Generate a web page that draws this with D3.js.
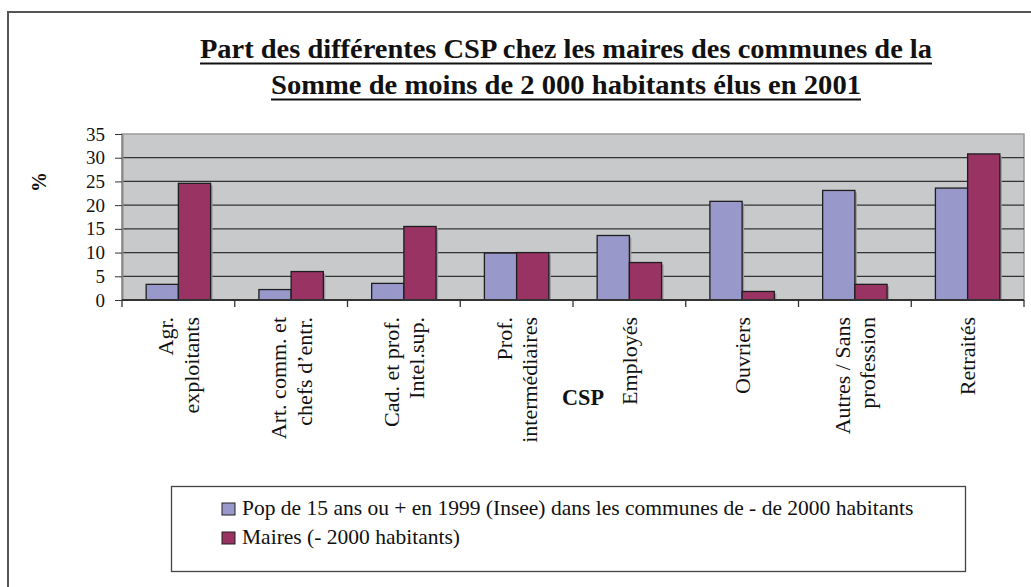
<!DOCTYPE html>
<html>
<head>
<meta charset="utf-8">
<script src="https://cdn.jsdelivr.net/npm/d3@7"></script>
<style>
  body { margin: 0; background: #fff; }
  svg text { font-family: "Liberation Serif", serif; }
</style>
</head>
<body>
<svg id="chart"></svg>
<script>
// data
const categories = [
  "Agr.\nexploitants",
  "Art. comm. et\nchefs d\u2019entr.",
  "Cad. et prof.\nIntel.sup.",
  "Prof.\ninterm\u00e9diaires",
  "Employ\u00e9s",
  "Ouvriers",
  "Autres / Sans\nprofession",
  "Retrait\u00e9s"
];
const seriesNames = [
  "Pop de 15 ans ou + en 1999 (Insee) dans les communes de - de 2000 habitants",
  "Maires (- 2000 habitants)"
];
const popValues = [3.3, 2.2, 3.5, 9.9, 13.6, 20.8, 23.1, 23.6];
const maireValues = [24.6, 6.0, 15.5, 10.0, 7.9, 1.8, 3.3, 30.8];
const yTicks = [0, 5, 10, 15, 20, 25, 30, 35];
const titleLines = [
  "Part des diff\u00e9rentes CSP chez les maires des communes de la",
  "Somme de moins de 2 000 habitants  \u00e9lus en 2001"
];
const colors = ["#9898CB", "#993363"];

const serif = "Liberation Serif";
const size = { width: 1031, height: 587 };
const plot = { left: 122, right: 1024, top: 134, bottom: 300 };

const svg = d3.select("#chart")
  .attr("width", size.width)
  .attr("height", size.height);

// outer frame (only left / top edges are inside the picture)
svg.append("rect")
  .attr("x", 8).attr("y", 12)
  .attr("width", size.width + 20).attr("height", size.height + 20)
  .attr("fill", "none")
  .attr("stroke", "#555")
  .attr("stroke-width", 2);

// title, bold and narrow, underlined
const titleWidths = [732, 590];
titleLines.forEach((t, i) => {
  const y = 58 + i * 36;
  svg.append("text")
    .attr("x", 566).attr("y", y)
    .attr("text-anchor", "middle")
    .style("font-family", serif)
    .attr("font-size", 27)
    .attr("font-weight", "bold")
    .attr("fill", "#111")
    .attr("textLength", titleWidths[i])
    .attr("lengthAdjust", "spacingAndGlyphs")
    .text(t);
  svg.append("line")
    .attr("x1", 566 - titleWidths[i] / 2).attr("x2", 566 + titleWidths[i] / 2)
    .attr("y1", y + 5.5).attr("y2", y + 5.5)
    .attr("stroke", "#111")
    .attr("stroke-width", 2);
});

const data = categories.map((c, i) => ({ cat: c, values: [popValues[i], maireValues[i]] }));

const x = d3.scaleBand()
  .domain(d3.range(categories.length))
  .range([plot.left, plot.right]);
const xSeries = d3.scaleBand()
  .domain([0, 1])
  .range([0, x.bandwidth()])
  .paddingOuter(0.75);
const y = d3.scaleLinear()
  .domain([0, 35])
  .range([plot.bottom, plot.top]);

// plot area
svg.append("rect")
  .attr("x", plot.left).attr("y", plot.top)
  .attr("width", plot.right - plot.left).attr("height", plot.bottom - plot.top)
  .attr("fill", "#C8C9CB")
  .attr("stroke", "#9a9a9a")
  .attr("stroke-width", 1.5);

svg.append("g")
  .selectAll("line")
  .data(yTicks.filter(d => d > 0 && d < 35))
  .join("line")
  .attr("x1", plot.left).attr("x2", plot.right)
  .attr("y1", d => y(d)).attr("y2", d => y(d))
  .attr("stroke", "#333")
  .attr("stroke-width", 1.3);

// bars (with a light drop shadow like the original)
const groups = svg.append("g")
  .selectAll("g")
  .data(data)
  .join("g")
  .attr("transform", (d, i) => `translate(${x(i)},0)`);

groups.selectAll("rect.shadow")
  .data(d => d.values)
  .join("rect")
  .attr("class", "shadow")
  .attr("x", (d, j) => xSeries(j) + 2)
  .attr("y", d => y(d) + 2)
  .attr("width", xSeries.bandwidth())
  .attr("height", d => y(0) - y(d) - 2)
  .attr("fill", "#9a9a9a");

groups.selectAll("rect.bar")
  .data(d => d.values)
  .join("rect")
  .attr("class", "bar")
  .attr("x", (d, j) => xSeries(j))
  .attr("y", d => y(d))
  .attr("width", xSeries.bandwidth())
  .attr("height", d => y(0) - y(d))
  .attr("fill", (d, j) => colors[j])
  .attr("stroke", "#1e1e1e")
  .attr("stroke-width", 1.3);

// y axis
const yAxis = svg.append("g")
  .attr("transform", `translate(${plot.left},0)`)
  .call(d3.axisLeft(y).tickValues(yTicks).tickSize(7).tickPadding(10).tickSizeOuter(0));
yAxis.select(".domain").attr("stroke", "#888").attr("stroke-width", 2);
yAxis.selectAll(".tick line").attr("stroke", "#333");
yAxis.selectAll(".tick text")
  .style("font-family", serif)
  .style("font-size", "19px")
  .attr("fill", "#111");

svg.append("text")
  .attr("transform", "translate(46,182) rotate(-90)")
  .attr("text-anchor", "middle")
  .style("font-family", serif)
  .attr("font-size", 20)
  .attr("font-weight", "bold")
  .attr("fill", "#111")
  .text("%");

// x axis: baseline and category separators
svg.append("line")
  .attr("x1", plot.left).attr("x2", plot.right)
  .attr("y1", plot.bottom).attr("y2", plot.bottom)
  .attr("stroke", "#333")
  .attr("stroke-width", 2);
svg.append("g")
  .selectAll("line")
  .data(d3.range(categories.length + 1))
  .join("line")
  .attr("x1", i => plot.left + i * x.step()).attr("x2", i => plot.left + i * x.step())
  .attr("y1", plot.bottom).attr("y2", plot.bottom + 7)
  .attr("stroke", "#333")
  .attr("stroke-width", 1.3);

const lineH = 25.5;
const xLabels = svg.append("g")
  .selectAll("text")
  .data(categories)
  .join("text")
  .attr("transform", (d, i) => `translate(${x(i) + x.bandwidth() / 2},317) rotate(-90)`)
  .attr("text-anchor", "end")
  .style("font-family", serif)
  .attr("font-size", 22)
  .attr("fill", "#111");
xLabels.each(function(d) {
  const lines = d.split("\n");
  d3.select(this).selectAll("tspan")
    .data(lines)
    .join("tspan")
    .attr("x", 0)
    .attr("y", (l, k) => (k - (lines.length - 1) / 2) * lineH)
    .attr("dy", "0.35em")
    .text(l => l);
});

svg.append("text")
  .attr("x", 583).attr("y", 405)
  .attr("text-anchor", "middle")
  .style("font-family", serif)
  .attr("font-size", 24)
  .attr("font-weight", "bold")
  .attr("fill", "#111")
  .attr("textLength", 42)
  .attr("lengthAdjust", "spacingAndGlyphs")
  .text("CSP");

// legend
const legend = svg.append("g");
legend.append("rect")
  .attr("x", 171.5).attr("y", 486.5)
  .attr("width", 794).attr("height", 85)
  .attr("fill", "#fff")
  .attr("stroke", "#444")
  .attr("stroke-width", 1.3);
const items = legend.selectAll("g")
  .data(seriesNames)
  .join("g")
  .attr("transform", (d, i) => `translate(222,${503 + i * 29})`);
items.append("rect")
  .attr("width", 13).attr("height", 12)
  .attr("fill", (d, i) => colors[i])
  .attr("stroke", "#222")
  .attr("stroke-width", 1);
items.append("text")
  .attr("x", 20).attr("y", 12)
  .style("font-family", serif)
  .attr("font-size", 21.5)
  .attr("fill", "#111")
  .text(d => d);
</script>
</body>
</html>
